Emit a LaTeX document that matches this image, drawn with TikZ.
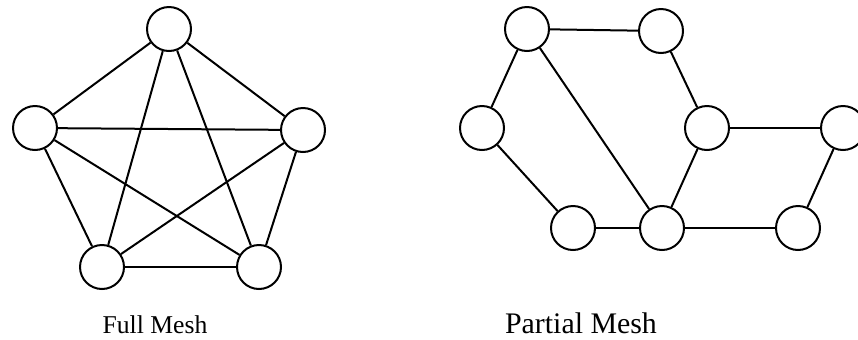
\documentclass[tikz,border=0pt]{standalone}
\usepackage{fontspec}
\setmainfont{Liberation Serif}
\usepackage{tikz}

\tikzset{
 meshnode/.style={circle, draw=black, fill=white, line width=0.4mm, minimum size=0.88cm, inner sep=0pt},
 meshlink/.style={line width=0.4mm},
 meshlabel/.style={anchor=base, inner sep=0pt}
}

\begin{document}
\begin{tikzpicture}[x=0.02cm, y=-0.02cm]

 \useasboundingbox (0,0) rectangle (858,339);

 % full mesh
 \node[meshnode] (ft) at (169, 29) {};
 \node[meshnode] (fl) at (35, 128) {};
 \node[meshnode] (fr) at (303, 130) {};
 \node[meshnode] (fbl) at (102, 267) {};
 \node[meshnode] (fbr) at (259, 267) {};
 \foreach \a/\b in {ft/fl, ft/fr, ft/fbl, ft/fbr, fl/fr, fl/fbl, fl/fbr, fr/fbl, fr/fbr, fbl/fbr}
  \draw[meshlink] (\a) -- (\b);
 \node[meshlabel, font=\fontsize{14.6}{18}\selectfont] (fulllabel) at (155, 333) {Full Mesh};

 % partial mesh
 \node[meshnode] (pa) at (527, 29) {};
 \node[meshnode] (pb) at (661, 31) {};
 \node[meshnode] (pc) at (482, 128) {};
 \node[meshnode] (pd) at (707, 128) {};
 \node[meshnode] (pe) at (843, 128) {};
 \node[meshnode] (pf) at (573, 228) {};
 \node[meshnode] (pg) at (662, 228) {};
 \node[meshnode] (ph) at (798, 228) {};
 \foreach \a/\b in {pa/pb, pa/pc, pa/pg, pb/pd, pd/pe, pd/pg, pc/pf, pf/pg, pg/ph, ph/pe}
  \draw[meshlink] (\a) -- (\b);
 \node[meshlabel, font=\fontsize{17}{20}\selectfont] (partiallabel) at (581, 333) {Partial Mesh};

\end{tikzpicture}
\end{document}
